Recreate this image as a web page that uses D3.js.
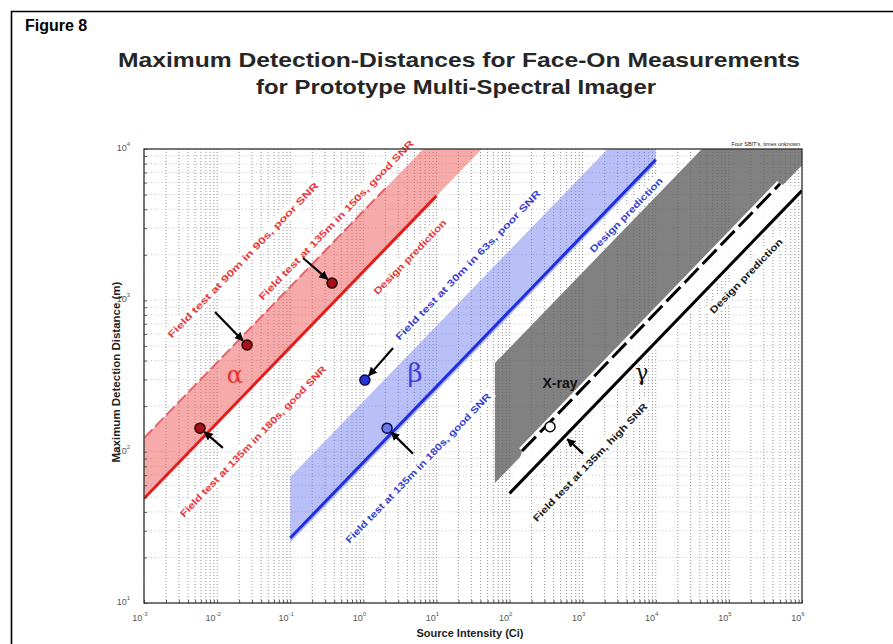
<!DOCTYPE html>
<html>
<head>
<meta charset="utf-8">
<script src="https://cdn.jsdelivr.net/npm/d3@7"></script>
<style>
  body { margin: 0; background: #fff; }
  svg { font-family: "Liberation Sans", Arial, sans-serif; }
</style>
</head>
<body>
<div id="chart"></div>
<script>
// axis ticks
const xTickValues = [1e-3, 1e-2, 1e-1, 1e0, 1e1, 1e2, 1e3, 1e4, 1e5, 1e6];
const xTickExponents = ["-3", "-2", "-1", "0", "1", "2", "3", "4", "5", "6"];
const yTickValues = [1e1, 1e2, 1e3, 1e4];
const yTickExponents = ["1", "2", "3", "4"];

// alpha (red): band, design prediction line, upper field-test line, measured points
const alphaBand = [[0.001, 123], [6.6, 10000], [41.7, 10000], [0.001, 49]];
const alphaLine = [[0.001, 49], [10, 4900]];
const alphaUpperLine = [[0.001, 123], [2, 5500]];
const alphaPoints = [[0.0257, 507], [0.373, 1300], [0.00583, 143]];
const alphaArrowFrom = [[0.00935, 837], [0.150, 1905], [0.0120, 106]];

// beta (blue)
const betaBand = [[0.1, 68], [2190, 10000], [10000, 10000], [10000, 7943], [0.1, 25]];
const betaLine = [[0.1, 26.9], [10000, 8511]];
const betaPoints = [[1.05, 297], [2.11, 143]];
const betaArrowFrom = [[2.55, 484], [4.79, 97]];

// gamma / x-ray (black)
const gammaBand = [[63, 62], [63, 385], [42700, 10000], [1e6, 10000], [1e6, 7800]];
const xrayLine = [[148, 101], [501000, 5890]];
const gammaLine = [[100, 53], [1e6, 5309]];
const gammaPoints = [[358, 146]];
const gammaArrowFrom = [[1012, 97]];
const gammaArrowTo = [[537, 129]];

// diagonal annotations, anchored in data units
const labelTexts = [
  "Field test at 90m in 90s, poor SNR",
  "Field test at 135m in 150s, good SNR",
  "Design prediction",
  "Field test at 135m in 180s, good SNR",
  "Field test at 30m in 63s, poor SNR",
  "Design prediction",
  "Field test at 135m in 180s, good SNR",
  "Field test at 135m, high SNR",
  "Design prediction"
];
const labelAnchors = [
  [0.0226, 1845], [0.424, 3390], [4.35, 1932], [0.031, 117],
  [27, 1710], [3930, 3660], [5.6, 78],
  [1262, 85], [171800, 1449]
];
const labelSeries = ["a", "a", "a", "a", "b", "b", "b", "g", "g"];

// series symbols and the x-ray tag
const symbolTexts = ["\u03b1", "\u03b2", "\u03b3", "X-ray"];
const symbolAnchors = [[0.0175, 285], [5.1, 288], [6460, 297], [490, 263]];
const symbolSeries = ["a", "b", "g", "g"];

/** Log-log detection distance chart. */
class DetectionChart {

  constructor() {
    this.width = 893;
    this.height = 644;
    this.plot = { left: 144, right: 802, top: 149, bottom: 603 };

    this.svg = d3.select("#chart").append("svg")
      .attr("width", this.width)
      .attr("height", this.height);

    this.x = d3.scaleLog().domain([1e-3, 1e6]).range([this.plot.left, this.plot.right]);
    this.y = d3.scaleLog().domain([1e1, 1e4]).range([this.plot.bottom, this.plot.top]);

    this.line = d3.line()
      .x(d => this.x(d[0]))
      .y(d => this.y(d[1]));

    this.colors = { a: "#e8383a", b: "#3a3fd0", g: "#1a1a1a" };
  }

  drawTitles() {
    let svg = this.svg;
    // page border
    svg.append("path")
      .attr("d", "M11.5," + this.height + "V11.5H" + this.width)
      .attr("fill", "none")
      .attr("stroke", "#000")
      .attr("stroke-width", 1.6);

    svg.append("text")
      .attr("x", 25).attr("y", 31)
      .attr("font-size", 16).attr("font-weight", "bold")
      .text("Figure 8");

    svg.append("text")
      .attr("x", 459).attr("y", 67)
      .attr("text-anchor", "middle")
      .attr("font-size", 21).attr("font-weight", "bold").attr("fill", "#262626")
      .attr("textLength", 682).attr("lengthAdjust", "spacingAndGlyphs")
      .text("Maximum Detection-Distances for Face-On Measurements");

    svg.append("text")
      .attr("x", 456).attr("y", 94)
      .attr("text-anchor", "middle")
      .attr("font-size", 21).attr("font-weight", "bold").attr("fill", "#262626")
      .attr("textLength", 400).attr("lengthAdjust", "spacingAndGlyphs")
      .text("for Prototype Multi-Spectral Imager");
  }

  drawGrid() {
    let p = this.plot;
    let grid = this.svg.append("g").attr("class", "grid");

    grid.selectAll(".vgrid")
      .data(this.x.ticks())
      .enter().append("line")
      .attr("x1", d => this.x(d)).attr("x2", d => this.x(d))
      .attr("y1", p.top).attr("y2", p.bottom)
      .attr("stroke", "#666")
      .attr("stroke-width", 0.7)
      .attr("stroke-dasharray", "1,2");

    grid.selectAll(".hgrid")
      .data(this.y.ticks())
      .enter().append("line")
      .attr("y1", d => this.y(d)).attr("y2", d => this.y(d))
      .attr("x1", p.left).attr("x2", p.right)
      .attr("stroke", "#9a9a9a")
      .attr("stroke-width", 0.6)
      .attr("stroke-dasharray", "1,2.5");
  }

  drawBands() {
    let g = this.svg.append("g").attr("clip-path", "url(#plotClip)");

    this.svg.append("clipPath").attr("id", "plotClip")
      .append("rect")
      .attr("x", this.plot.left).attr("y", this.plot.top)
      .attr("width", this.plot.right - this.plot.left)
      .attr("height", this.plot.bottom - this.plot.top);

    g.append("path").attr("d", this.line(alphaBand) + "Z")
      .attr("fill", "#ee6464").attr("opacity", 0.55);
    g.append("path").attr("d", this.line(betaBand) + "Z")
      .attr("fill", "#7480f0").attr("opacity", 0.5);
    g.append("path").attr("d", this.line(gammaBand) + "Z")
      .attr("fill", "#5e5e5e").attr("opacity", 0.78);

    // white strip between the x-ray and gamma lines
    let strip = [xrayLine[0], xrayLine[1], gammaLine[1], gammaLine[0]];
    g.append("path").attr("d", this.line(strip) + "Z")
      .attr("fill", "#fff").attr("opacity", 0.85);

    this.bandLayer = g;
  }

  drawLines() {
    let g = this.bandLayer;

    g.append("path").attr("d", this.line(alphaUpperLine))
      .attr("fill", "none").attr("stroke", "#e0404c")
      .attr("stroke-width", 2).attr("opacity", 0.75)
      .attr("stroke-dasharray", "12,4");

    g.append("path").attr("d", this.line(alphaLine))
      .attr("fill", "none").attr("stroke", "#e41c1c").attr("stroke-width", 3);

    g.append("path").attr("d", this.line(betaLine))
      .attr("fill", "none").attr("stroke", "#1f2fe0").attr("stroke-width", 3);

    [xrayLine, gammaLine].forEach((ln, i) => {
      g.append("path").attr("d", this.line(ln))
        .attr("fill", "none").attr("stroke", "#fff").attr("stroke-width", 8);
      g.append("path").attr("d", this.line(ln))
        .attr("fill", "none").attr("stroke", "#000").attr("stroke-width", 3)
        .attr("stroke-dasharray", i == 0 ? "20,6" : null);
    });
  }

  drawLabels() {
    let g = this.svg.append("g").attr("class", "labels");
    // text length along the diagonal for each label
    let lengths = [212, 218, 100, 206, 204, 100, 204, 160, 100];

    labelTexts.forEach((t, i) => {
      let px = this.x(labelAnchors[i][0]);
      let py = this.y(labelAnchors[i][1]);
      let lg = g.append("g")
        .attr("transform", "translate(" + px + "," + py + ") rotate(-46)");
      lg.append("rect")
        .attr("x", -lengths[i] / 2 - 4).attr("y", -7)
        .attr("width", lengths[i] + 8).attr("height", 13)
        .attr("fill", "#fff");
      lg.append("text")
        .attr("text-anchor", "middle")
        .attr("dy", "0.35em")
        .attr("font-size", 9.5)
        .attr("font-weight", "bold")
        .attr("fill", this.colors[labelSeries[i]])
        .attr("textLength", lengths[i])
        .attr("lengthAdjust", "spacingAndGlyphs")
        .text(t);
    });

    // greek symbols and x-ray tag
    let symColors = { a: "#e83030", b: "#3a40e0", g: "#111" };
    let symSizes = [24, 26, 22, 14];
    symbolTexts.forEach((t, i) => {
      let isTag = t.length > 1;
      g.append("text")
        .attr("x", this.x(symbolAnchors[i][0]))
        .attr("y", this.y(symbolAnchors[i][1]))
        .attr("text-anchor", "middle")
        .attr("font-family", isTag ? null : "DejaVu Serif")
        .attr("font-weight", isTag ? "bold" : null)
        .attr("font-size", symSizes[i])
        .attr("fill", symColors[symbolSeries[i]])
        .text(t);
    });
  }

  drawPoints() {
    let g = this.svg.append("g").attr("class", "points");

    this.svg.append("defs").append("marker")
      .attr("id", "arrow")
      .attr("viewBox", "0 0 10 10")
      .attr("refX", 9).attr("refY", 5)
      .attr("markerWidth", 4).attr("markerHeight", 4)
      .attr("orient", "auto")
      .append("path").attr("d", "M0,0L10,5L0,10Z").attr("fill", "#000");

    let arrow = (from, to) => {
      let x1 = this.x(from[0]), y1 = this.y(from[1]);
      let x2 = this.x(to[0]), y2 = this.y(to[1]);
      let len = Math.hypot(x2 - x1, y2 - y1);
      let k = (len - 6) / len;
      g.append("line")
        .attr("x1", x1).attr("y1", y1)
        .attr("x2", x1 + (x2 - x1) * k).attr("y2", y1 + (y2 - y1) * k)
        .attr("stroke", "#000").attr("stroke-width", 2.2)
        .attr("marker-end", "url(#arrow)");
    };

    alphaPoints.forEach((d, i) => arrow(alphaArrowFrom[i], d));
    betaPoints.forEach((d, i) => arrow(betaArrowFrom[i], d));
    arrow(gammaArrowFrom[0], gammaArrowTo[0]);

    g.selectAll(".apt").data(alphaPoints).enter().append("circle")
      .attr("cx", d => this.x(d[0])).attr("cy", d => this.y(d[1]))
      .attr("r", 5).attr("fill", "#a8101c").attr("stroke", "#2a0000").attr("stroke-width", 1.5);

    g.selectAll(".bpt").data(betaPoints).enter().append("circle")
      .attr("cx", d => this.x(d[0])).attr("cy", d => this.y(d[1]))
      .attr("r", 5)
      .attr("fill", (d, i) => i == 0 ? "#2434d0" : "#6c78e8")
      .attr("stroke", "#0a0a50").attr("stroke-width", 1.5);

    g.selectAll(".gpt").data(gammaPoints).enter().append("circle")
      .attr("cx", d => this.x(d[0])).attr("cy", d => this.y(d[1]))
      .attr("r", 5).attr("fill", "#fff").attr("stroke", "#000").attr("stroke-width", 1.5);
  }

  drawAxes() {
    let p = this.plot;
    let svg = this.svg;

    let xAxis = d3.axisBottom(this.x).tickValues(this.x.ticks()).tickSize(-3).tickFormat("");
    svg.append("g").attr("transform", "translate(0," + p.bottom + ")").call(xAxis)
      .call(g => g.selectAll("line").attr("stroke", "#555"))
      .call(g => g.select(".domain").remove());

    let yAxis = d3.axisLeft(this.y).tickValues(this.y.ticks()).tickSize(-3).tickFormat("");
    svg.append("g").attr("transform", "translate(" + p.left + ",0)").call(yAxis)
      .call(g => g.selectAll("line").attr("stroke", "#555"))
      .call(g => g.select(".domain").remove());

    svg.append("rect")
      .attr("x", p.left).attr("y", p.top)
      .attr("width", p.right - p.left).attr("height", p.bottom - p.top)
      .attr("fill", "none").attr("stroke", "#333").attr("stroke-width", 1.3);

    // tick labels as 10 with superscript exponent
    let xl = svg.append("g").selectAll("text").data(xTickValues).enter().append("text")
      .attr("x", d => this.x(d) - 4).attr("y", p.bottom + 18)
      .attr("text-anchor", "middle")
      .attr("font-size", 9).attr("fill", "#555");
    xl.append("tspan").text("10");
    xl.append("tspan").attr("dy", -5).attr("font-size", 6)
      .text((d, i) => xTickExponents[i]);

    let yl = svg.append("g").selectAll("text").data(yTickValues).enter().append("text")
      .attr("x", p.left - 14).attr("y", d => this.y(d) + 2)
      .attr("text-anchor", "end")
      .attr("font-size", 9).attr("fill", "#555");
    yl.append("tspan").text("10");
    yl.append("tspan").attr("dy", -5).attr("font-size", 6)
      .text((d, i) => yTickExponents[i]);

    svg.append("text")
      .attr("x", 470).attr("y", 637)
      .attr("text-anchor", "middle")
      .attr("font-size", 11).attr("font-weight", "bold").attr("fill", "#222")
      .text("Source Intensity (Ci)");

    svg.append("text")
      .attr("transform", "translate(120,372) rotate(-90)")
      .attr("text-anchor", "middle")
      .attr("font-size", 11.5).attr("font-weight", "bold").attr("fill", "#222")
      .text("Maximum Detection Distance (m)");

    svg.append("text")
      .attr("x", 800).attr("y", 146)
      .attr("text-anchor", "end")
      .attr("font-size", 5.5).attr("fill", "#222")
      .text("Four SBIT's, times unknown");
  }

  update() {
    this.drawTitles();
    this.drawGrid();
    this.drawBands();
    this.drawLines();
    this.drawLabels();
    this.drawPoints();
    this.drawAxes();
  }
}

let chart = new DetectionChart();
chart.update();
</script>
</body>
</html>
